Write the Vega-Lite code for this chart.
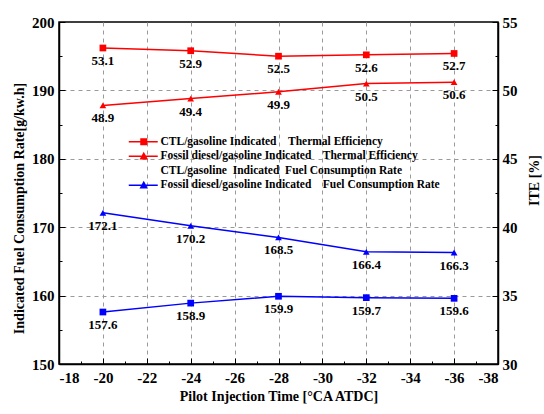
{
  "$schema": "https://vega.github.io/schema/vega-lite/v6.json",
  "autosize": {"type": "none"},
  "padding": {"left": 59, "top": 22, "right": 46, "bottom": 50},
  "width": 439,
  "height": 342,
  "background": "white",
  "config": {
    "view": {"stroke": "black", "strokeWidth": 1.5},
    "axis": {
      "domainColor": "black",
      "domainWidth": 1.5,
      "tickColor": "black",
      "tickWidth": 1,
      "labelFont": "Liberation Serif",
      "labelFontWeight": "bold",
      "labelFontSize": 15,
      "labelColor": "black",
      "titleFont": "Liberation Serif",
      "titleFontWeight": "bold",
      "titleFontSize": 14,
      "titleColor": "black",
      "gridColor": "#9a9a9a",
      "gridDash": [4, 4],
      "gridWidth": 1
    }
  },
  "data": {
    "values": [
      {"x": -20, "metric": "ite", "series": "CTL/gasoline Indicated\u00a0\u00a0\u00a0\u00a0Thermal Efficiency", "value": 53.1},
      {"x": -24, "metric": "ite", "series": "CTL/gasoline Indicated\u00a0\u00a0\u00a0\u00a0Thermal Efficiency", "value": 52.9},
      {"x": -28, "metric": "ite", "series": "CTL/gasoline Indicated\u00a0\u00a0\u00a0\u00a0Thermal Efficiency", "value": 52.5},
      {"x": -32, "metric": "ite", "series": "CTL/gasoline Indicated\u00a0\u00a0\u00a0\u00a0Thermal Efficiency", "value": 52.6},
      {"x": -36, "metric": "ite", "series": "CTL/gasoline Indicated\u00a0\u00a0\u00a0\u00a0Thermal Efficiency", "value": 52.7},
      {"x": -20, "metric": "ite", "series": "Fossil diesel/gasoline Indicated\u00a0\u00a0\u00a0\u00a0Thermal Efficiency", "value": 48.9},
      {"x": -24, "metric": "ite", "series": "Fossil diesel/gasoline Indicated\u00a0\u00a0\u00a0\u00a0Thermal Efficiency", "value": 49.4},
      {"x": -28, "metric": "ite", "series": "Fossil diesel/gasoline Indicated\u00a0\u00a0\u00a0\u00a0Thermal Efficiency", "value": 49.9},
      {"x": -32, "metric": "ite", "series": "Fossil diesel/gasoline Indicated\u00a0\u00a0\u00a0\u00a0Thermal Efficiency", "value": 50.5},
      {"x": -36, "metric": "ite", "series": "Fossil diesel/gasoline Indicated\u00a0\u00a0\u00a0\u00a0Thermal Efficiency", "value": 50.6},
      {"x": -20, "metric": "fuel", "series": "CTL/gasoline\u00a0\u00a0Indicated\u00a0\u00a0Fuel Consumption Rate", "value": 157.6},
      {"x": -24, "metric": "fuel", "series": "CTL/gasoline\u00a0\u00a0Indicated\u00a0\u00a0Fuel Consumption Rate", "value": 158.9},
      {"x": -28, "metric": "fuel", "series": "CTL/gasoline\u00a0\u00a0Indicated\u00a0\u00a0Fuel Consumption Rate", "value": 159.9},
      {"x": -32, "metric": "fuel", "series": "CTL/gasoline\u00a0\u00a0Indicated\u00a0\u00a0Fuel Consumption Rate", "value": 159.7},
      {"x": -36, "metric": "fuel", "series": "CTL/gasoline\u00a0\u00a0Indicated\u00a0\u00a0Fuel Consumption Rate", "value": 159.6},
      {"x": -20, "metric": "fuel", "series": "Fossil diesel/gasoline Indicated\u00a0\u00a0\u00a0\u00a0Fuel Consumption Rate", "value": 172.1},
      {"x": -24, "metric": "fuel", "series": "Fossil diesel/gasoline Indicated\u00a0\u00a0\u00a0\u00a0Fuel Consumption Rate", "value": 170.2},
      {"x": -28, "metric": "fuel", "series": "Fossil diesel/gasoline Indicated\u00a0\u00a0\u00a0\u00a0Fuel Consumption Rate", "value": 168.5},
      {"x": -32, "metric": "fuel", "series": "Fossil diesel/gasoline Indicated\u00a0\u00a0\u00a0\u00a0Fuel Consumption Rate", "value": 166.4},
      {"x": -36, "metric": "fuel", "series": "Fossil diesel/gasoline Indicated\u00a0\u00a0\u00a0\u00a0Fuel Consumption Rate", "value": 166.3}
    ]
  },
  "encoding": {
    "x": {
      "field": "x",
      "type": "quantitative",
      "scale": {"domain": [-38, -18], "reverse": true, "nice": false, "zero": false},
      "axis": {
        "title": "Pilot Injection Time [°CA ATDC]",
        "values": [-18, -19, -20, -21, -22, -23, -24, -25, -26, -27, -28, -29, -30, -31, -32, -33, -34, -35, -36, -37, -38],
        "labelExpr": "datum.value % 2 === 0 ? '' + datum.value : ''",
        "tickSize": {"condition": {"test": "datum.value % 2 === 0", "value": -6}, "value": -3},
        "gridOpacity": {"condition": {"test": "datum.value % 2 === 0 && datum.value > -38 && datum.value < -18", "value": 1}, "value": 0},
        "labelPadding": 12,
        "titlePadding": 4
      }
    }
  },
  "layer": [
    {
      "transform": [{"filter": "datum.metric === 'fuel'"}],
      "encoding": {
        "y": {
          "field": "value",
          "type": "quantitative",
          "scale": {"domain": [150, 200], "nice": false, "zero": false},
          "axis": {
            "orient": "left",
            "title": "Indicated Fuel Consumption Rate[g/kw.h]",
            "titleY": 186,
            "values": [150, 155, 160, 165, 170, 175, 180, 185, 190, 195, 200],
            "labelExpr": "datum.value % 10 === 0 ? datum.label : ''",
            "tickSize": {"condition": {"test": "datum.value % 10 === 0", "value": -6}, "value": -3},
            "gridOpacity": {"condition": {"test": "datum.value % 10 === 0 && datum.value > 150 && datum.value < 200", "value": 1}, "value": 0},
            "labelPadding": 11,
            "titlePadding": 5
          }
        },
        "color": {
          "field": "series",
          "type": "nominal",
          "scale": {
            "domain": [
              "CTL/gasoline Indicated\u00a0\u00a0\u00a0\u00a0Thermal Efficiency",
              "Fossil diesel/gasoline Indicated\u00a0\u00a0\u00a0\u00a0Thermal Efficiency",
              "CTL/gasoline\u00a0\u00a0Indicated\u00a0\u00a0Fuel Consumption Rate",
              "Fossil diesel/gasoline Indicated\u00a0\u00a0\u00a0\u00a0Fuel Consumption Rate"
            ],
            "range": ["#ff0000", "#ff0000", "#0000ff", "#0000ff"]
          },
          "legend": null
        }
      },
      "layer": [
        {"mark": {"type": "line", "strokeWidth": 1.5}},
        {
          "mark": {"type": "point", "filled": true, "opacity": 1, "size": 45},
          "encoding": {
            "shape": {
              "field": "series",
              "type": "nominal",
              "scale": {
                "domain": [
                  "CTL/gasoline Indicated\u00a0\u00a0\u00a0\u00a0Thermal Efficiency",
                  "Fossil diesel/gasoline Indicated\u00a0\u00a0\u00a0\u00a0Thermal Efficiency",
                  "CTL/gasoline\u00a0\u00a0Indicated\u00a0\u00a0Fuel Consumption Rate",
                  "Fossil diesel/gasoline Indicated\u00a0\u00a0\u00a0\u00a0Fuel Consumption Rate"
                ],
                "range": ["square", "triangle-up", "square", "triangle-up"]
              },
              "legend": null
            }
          }
        },
        {
          "mark": {"type": "text", "dy": 13, "font": "Liberation Serif", "fontWeight": "bold", "fontSize": 13, "color": "black"},
          "encoding": {"text": {"field": "value", "type": "quantitative", "format": ".1f"}, "color": {"value": "black"}}
        }
      ]
    },
    {
      "transform": [{"filter": "datum.metric === 'ite'"}],
      "encoding": {
        "y": {
          "field": "value",
          "type": "quantitative",
          "scale": {"domain": [30, 55], "nice": false, "zero": false},
          "axis": {
            "orient": "right",
            "title": "ITE [%]",
            "titleAngle": -90,
            "titleY": 158,
            "values": [30, 32.5, 35, 37.5, 40, 42.5, 45, 47.5, 50, 52.5, 55],
            "labelExpr": "datum.value % 5 === 0 ? datum.label : ''",
            "tickSize": {"condition": {"test": "datum.value % 5 === 0", "value": -6}, "value": -3},
            "grid": false,
            "labelPadding": 10,
            "titlePadding": 24
          }
        },
        "color": {
          "field": "series",
          "type": "nominal",
          "scale": {
            "domain": [
              "CTL/gasoline Indicated\u00a0\u00a0\u00a0\u00a0Thermal Efficiency",
              "Fossil diesel/gasoline Indicated\u00a0\u00a0\u00a0\u00a0Thermal Efficiency",
              "CTL/gasoline\u00a0\u00a0Indicated\u00a0\u00a0Fuel Consumption Rate",
              "Fossil diesel/gasoline Indicated\u00a0\u00a0\u00a0\u00a0Fuel Consumption Rate"
            ],
            "range": ["#ff0000", "#ff0000", "#0000ff", "#0000ff"]
          },
          "legend": null
        }
      },
      "layer": [
        {"mark": {"type": "line", "strokeWidth": 1.5}},
        {
          "mark": {"type": "point", "filled": true, "opacity": 1, "size": 45},
          "encoding": {
            "shape": {
              "field": "series",
              "type": "nominal",
              "scale": {
                "domain": [
                  "CTL/gasoline Indicated\u00a0\u00a0\u00a0\u00a0Thermal Efficiency",
                  "Fossil diesel/gasoline Indicated\u00a0\u00a0\u00a0\u00a0Thermal Efficiency",
                  "CTL/gasoline\u00a0\u00a0Indicated\u00a0\u00a0Fuel Consumption Rate",
                  "Fossil diesel/gasoline Indicated\u00a0\u00a0\u00a0\u00a0Fuel Consumption Rate"
                ],
                "range": ["square", "triangle-up", "square", "triangle-up"]
              },
              "legend": null
            }
          }
        },
        {
          "mark": {"type": "text", "dy": 13, "font": "Liberation Serif", "fontWeight": "bold", "fontSize": 13, "color": "black"},
          "encoding": {"text": {"field": "value", "type": "quantitative", "format": ".1f"}, "color": {"value": "black"}}
        }
      ]
    },
    {
      "mark": {"type": "point", "filled": true, "opacity": 0},
      "encoding": {
        "color": {
          "field": "series",
          "type": "nominal",
          "scale": {
            "domain": [
              "CTL/gasoline Indicated\u00a0\u00a0\u00a0\u00a0Thermal Efficiency",
              "Fossil diesel/gasoline Indicated\u00a0\u00a0\u00a0\u00a0Thermal Efficiency",
              "CTL/gasoline\u00a0\u00a0Indicated\u00a0\u00a0Fuel Consumption Rate",
              "Fossil diesel/gasoline Indicated\u00a0\u00a0\u00a0\u00a0Fuel Consumption Rate"
            ],
            "range": ["#ff0000", "#ff0000", "#0000ff", "#0000ff"]
          },
          "legend": {
            "title": null,
            "orient": "none",
            "legendX": 79,
            "legendY": 114,
            "padding": 0,
            "symbolSize": 100,
            "symbolStrokeWidth": 0,
            "symbolOpacity": 1,
            "labelFont": "Liberation Serif",
            "labelFontWeight": "bold",
            "labelFontSize": 11.5,
            "labelColor": "black",
            "labelOffset": 11,
            "labelLimit": 400,
            "rowPadding": 1.5
          }
        },
        "shape": {
          "field": "series",
          "type": "nominal",
          "scale": {
            "domain": [
              "CTL/gasoline Indicated\u00a0\u00a0\u00a0\u00a0Thermal Efficiency",
              "Fossil diesel/gasoline Indicated\u00a0\u00a0\u00a0\u00a0Thermal Efficiency",
              "CTL/gasoline\u00a0\u00a0Indicated\u00a0\u00a0Fuel Consumption Rate",
              "Fossil diesel/gasoline Indicated\u00a0\u00a0\u00a0\u00a0Fuel Consumption Rate"
            ],
            "range": [
              "M-3,-0.15H2.8V0.15H-3Z M-0.7,-0.7H0.7V0.7H-0.7Z",
              "M-3,-0.15H2.8V0.15H-3Z M0,-0.9L0.85,0.65H-0.85Z",
              "M0,0",
              "M-3,-0.15H2.8V0.15H-3Z M0,-0.9L0.85,0.65H-0.85Z"
            ]
          },
          "legend": {
            "title": null,
            "orient": "none",
            "legendX": 79,
            "legendY": 114,
            "padding": 0,
            "symbolSize": 100,
            "symbolStrokeWidth": 0,
            "symbolOpacity": 1,
            "labelFont": "Liberation Serif",
            "labelFontWeight": "bold",
            "labelFontSize": 11.5,
            "labelColor": "black",
            "labelOffset": 11,
            "labelLimit": 400,
            "rowPadding": 1.5
          }
        }
      }
    }
  ],
  "resolve": {"scale": {"y": "independent", "shape": "independent", "color": "independent"}, "axis": {"y": "independent"}}
}
